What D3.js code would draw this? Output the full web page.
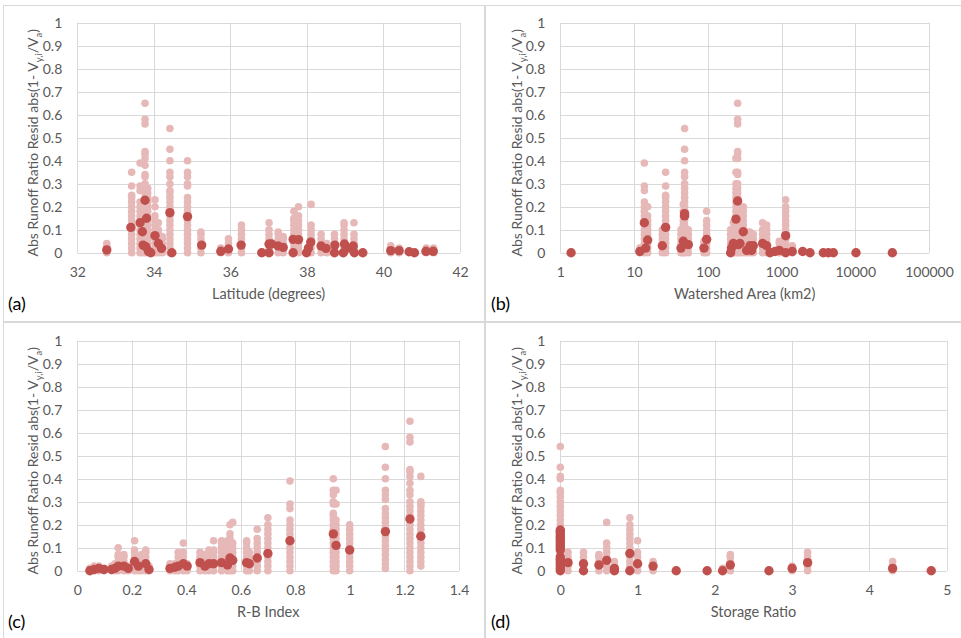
<!DOCTYPE html>
<html><head><meta charset="utf-8">
<script src="https://cdn.jsdelivr.net/npm/d3@7"></script>
<style>
html,body{margin:0;padding:0;background:#fff;}
svg{display:block;font-family:Lato,"Open Sans",sans-serif;}
</style></head>
<body>
<svg id="c" width="961" height="638"></svg>
<script>
// ---------- DATA ----------
const yTicks = [0,0.1,0.2,0.3,0.4,0.5,0.6,0.7,0.8,0.9,1];
const yTitleMain = "Abs Runoff Ratio Resid abs(1- V";

// Panel (a): Latitude
const latTicks = [32,34,36,38,40,42];
const latColumns = [
 [32.77,[0,0.01,0.02,0.03,0.04]],
 [33.42,[0,0.02,0.04,0.06,0.08,0.1,0.12,0.14,0.16,0.18,0.2,0.22,0.24,0.25,0.29,0.35]],
 [33.64,[0,0.02,0.04,0.06,0.08,0.1,0.12,0.14,0.16,0.18,0.2,0.22,0.27,0.29,0.39]],
 [33.70,[0,0.02,0.04,0.06,0.08,0.1,0.12,0.14,0.16,0.18,0.2]],
 [33.77,[0,0.02,0.04,0.06,0.08,0.1,0.12,0.14,0.16,0.18,0.2,0.22,0.24,0.26,0.28,0.3,0.33,0.34,0.38,0.41,0.43,0.44,0.56,0.58,0.65]],
 [33.84,[0,0.02,0.04,0.06,0.08,0.1,0.12,0.14,0.16,0.18,0.2,0.22,0.24,0.26,0.28]],
 [34.03,[0,0.02,0.04,0.06,0.08,0.1,0.12,0.14,0.16,0.2,0.23]],
 [34.12,[0,0.02,0.04,0.06,0.08,0.1,0.13]],
 [34.22,[0,0.02,0.04,0.06,0.07]],
 [34.42,[0,0.02,0.04,0.06,0.08,0.1,0.12,0.14,0.16,0.18,0.2,0.22,0.24,0.26,0.27,0.3,0.33,0.35,0.4,0.45,0.54]],
 [34.88,[0,0.02,0.04,0.06,0.08,0.1,0.12,0.14,0.16,0.18,0.2,0.22,0.24,0.29,0.3,0.33,0.35,0.4]],
 [35.23,[0,0.02,0.04,0.06,0.08,0.09]],
 [35.75,[0,0.01,0.02]],
 [35.95,[0,0.02,0.04,0.06]],
 [36.29,[0,0.02,0.04,0.06,0.08,0.1,0.12]],
 [37.01,[0,0.02,0.04,0.06,0.08,0.1,0.13]],
 [37.25,[0,0.02,0.04,0.06,0.08,0.09]],
 [37.38,[0,0.02,0.04,0.06,0.07]],
 [37.66,[0,0.02,0.04,0.06,0.08,0.1,0.12,0.14,0.15,0.18]],
 [37.78,[0,0.02,0.04,0.06,0.08,0.1,0.12,0.14,0.16,0.2]],
 [38.11,[0,0.02,0.04,0.06,0.08,0.1,0.12,0.21]],
 [38.37,[0,0.02,0.04,0.06,0.08]],
 [38.52,[0,0.02,0.04]],
 [38.72,[0,0.02,0.04,0.06,0.08]],
 [38.97,[0,0.02,0.04,0.06,0.08,0.1,0.12,0.13]],
 [39.23,[0,0.02,0.04,0.06,0.08,0.13]],
 [40.19,[0,0.01,0.02,0.03]],
 [40.41,[0,0.01,0.02]],
 [41.12,[0,0.01,0.02]],
 [41.31,[0,0.01,0.02]]
];
const latMeans = [
 [32.77,0.012],[33.40,0.11],[33.64,0.13],[33.70,0.091],[33.77,0.228],[33.81,0.15],[33.72,0.033],
 [33.79,0.026],[33.86,0.006],[33.92,0],[34.03,0.074],[34.12,0.04],[34.2,0.019],[34.42,0.174],
 [34.47,0],[34.88,0.157],[35.25,0.033],[35.75,0.006],[35.95,0.016],[36.28,0.033],[36.82,0],
 [37.01,0],[37.01,0.038],[37.08,0.038],[37.25,0.029],[37.38,0.023],[37.64,0],[37.64,0.058],
 [37.78,0.057],[37.99,0],[38.04,0.02],[38.10,0.046],[38.37,0.029],[38.5,0.019],[38.72,0],
 [38.73,0.033],[38.95,0],[38.98,0.038],[39.08,0.02],[39.21,0.029],[39.24,0],[39.46,0],
 [40.19,0.009],[40.41,0.009],[40.67,0.004],[40.81,0],[41.11,0.006],[41.30,0.006]
];

// Panel (b): Watershed Area
const areaTicks = [1,10,100,1000,10000,100000];
const areaColumns = [
 [12.0,[0,0.01,0.02]],
 [13.8,[0,0.02,0.04,0.06,0.08,0.1,0.12,0.14,0.16,0.18,0.2,0.22,0.27,0.29,0.39]],
 [15.3,[0,0.02,0.04,0.06,0.08,0.1,0.12,0.14,0.16,0.2]],
 [24.2,[0,0.02,0.04,0.06,0.08,0.1]],
 [26.8,[0,0.02,0.04,0.06,0.08,0.1,0.12,0.14,0.16,0.18,0.2,0.22,0.24,0.25,0.29,0.35]],
 [43.3,[0,0.02,0.04,0.06,0.08,0.1]],
 [46.6,[0,0.02,0.04,0.06,0.08,0.1,0.12,0.14,0.16,0.18,0.21]],
 [48.5,[0,0.02,0.04,0.06,0.08,0.1,0.12,0.14,0.16,0.18,0.2,0.22,0.24,0.26,0.28,0.3,0.33,0.35,0.4,0.45,0.54]],
 [54.4,[0,0.02,0.04,0.06,0.08,0.1]],
 [88.8,[0,0.02,0.04,0.05]],
 [96.5,[0,0.02,0.04,0.06,0.08,0.1,0.12,0.14,0.18]],
 [204,[0,0.02,0.04,0.06,0.08,0.1]],
 [222,[0,0.02,0.04,0.06,0.08,0.1,0.13]],
 [241,[0,0.02,0.04,0.06,0.08,0.1,0.12,0.14,0.16,0.18,0.2,0.22,0.24,0.26,0.28,0.3,0.35,0.41]],
 [254,[0,0.02,0.04,0.06,0.08,0.1,0.12,0.14,0.16,0.18,0.2,0.22,0.24,0.26,0.28,0.3,0.34,0.35,0.41,0.43,0.44,0.56,0.58,0.65]],
 [273,[0,0.02,0.04,0.06,0.08,0.1]],
 [303,[0,0.02,0.04,0.06,0.08,0.1,0.12,0.14,0.16,0.18,0.2]],
 [337,[0,0.02,0.04,0.06,0.08,0.09]],
 [373,[0,0.02,0.04,0.06,0.08,0.09]],
 [414,[0,0.02,0.04,0.06,0.08]],
 [554,[0,0.02,0.04,0.06,0.08,0.1,0.13]],
 [629,[0,0.02,0.04,0.06,0.08,0.1,0.12]],
 [934,[0,0.02,0.04,0.05]],
 [1138,[0,0.02,0.04,0.06,0.08,0.1,0.12,0.14,0.16,0.18,0.2,0.23]],
 [1400,[0,0.02,0.03]]
];
const areaMeans = [
 [1.4,0],[12.0,0.005],[13.8,0.13],[14.4,0.02],[15.3,0.055],[24.2,0.03],[26.8,0.11],[43.3,0.02],
 [46.6,0.05],[48.5,0.17],[48.5,0.16],[54.4,0.035],[88.8,0.02],[96.5,0.058],[204,0],[210,0.02],
 [222,0.04],[241,0.146],[254,0.225],[259,0.035],[273,0.04],[303,0.091],[337,0.01],[373,0.03],
 [393,0.01],[414,0.03],[554,0.04],[629,0.03],[698,0],[815,0.005],[934,0.01],[1138,0.074],
 [1138,0],[1400,0.005],[1935,0.005],[2434,0],[3690,0],[4316,0],[5045,0],[10233,0],[31839,0]
];

// Panel (c): R-B Index
const rbTicks = [0,0.2,0.4,0.6,0.8,1,1.2,1.4];
const rbColumns = [
 [0.046,[0,0.01]],
 [0.062,[0,0.01,0.02]],
 [0.079,[0,0.01,0.02]],
 [0.098,[0,0.01]],
 [0.126,[0,0.01,0.02]],
 [0.138,[0,0.01,0.03]],
 [0.15,[0,0.02,0.04,0.06,0.07,0.1]],
 [0.171,[0,0.02,0.04,0.06,0.07]],
 [0.187,[0,0.02]],
 [0.21,[0,0.02,0.04,0.06,0.08,0.09,0.13]],
 [0.224,[0,0.02,0.04,0.06]],
 [0.236,[0,0.02,0.04,0.06,0.07]],
 [0.251,[0,0.02,0.04,0.06,0.08,0.09]],
 [0.263,[0,0.02]],
 [0.34,[0,0.02,0.03]],
 [0.358,[0,0.02,0.03]],
 [0.37,[0,0.02,0.04,0.06,0.08]],
 [0.389,[0,0.02,0.04,0.06,0.08,0.12]],
 [0.403,[0,0.02,0.03]],
 [0.45,[0,0.02,0.04,0.06,0.08]],
 [0.468,[0,0.02,0.04,0.06,0.07]],
 [0.483,[0,0.02,0.04,0.06,0.08,0.09]],
 [0.5,[0,0.02,0.04,0.06,0.08,0.09,0.13]],
 [0.529,[0,0.02,0.04,0.06,0.08,0.1,0.12,0.13]],
 [0.551,[0,0.02,0.04,0.06,0.08,0.1,0.12,0.13]],
 [0.56,[0,0.02,0.04,0.06,0.08,0.1,0.12,0.14,0.16,0.2]],
 [0.57,[0,0.02,0.04,0.06,0.08,0.1,0.12,0.21]],
 [0.621,[0,0.02,0.04,0.06,0.08,0.1,0.12,0.13]],
 [0.631,[0,0.02,0.04,0.06,0.08]],
 [0.66,[0,0.02,0.04,0.06,0.08,0.1,0.12,0.14,0.18]],
 [0.699,[0,0.02,0.04,0.06,0.08,0.1,0.12,0.14,0.16,0.18,0.2,0.23]],
 [0.78,[0,0.02,0.04,0.06,0.08,0.1,0.12,0.14,0.16,0.18,0.2,0.22,0.27,0.29,0.39]],
 [0.939,[0,0.02,0.04,0.06,0.08,0.1,0.12,0.14,0.16,0.18,0.2,0.22,0.24,0.25,0.29,0.3,0.33,0.35,0.4]],
 [0.949,[0,0.02,0.04,0.06,0.08,0.1,0.12,0.14,0.16,0.18,0.2,0.22,0.29,0.35]],
 [0.999,[0,0.02,0.04,0.06,0.08,0.1,0.12,0.14,0.16,0.18,0.2]],
 [1.13,[0.01,0.03,0.05,0.07,0.09,0.11,0.13,0.15,0.17,0.19,0.21,0.23,0.25,0.27,0.31,0.33,0.35,0.4,0.45,0.54]],
 [1.22,[0,0.02,0.04,0.06,0.08,0.1,0.12,0.14,0.16,0.18,0.2,0.22,0.24,0.26,0.28,0.3,0.33,0.35,0.38,0.41,0.43,0.44,0.56,0.58,0.65]],
 [1.26,[0.02,0.04,0.06,0.08,0.1,0.12,0.14,0.16,0.18,0.2,0.22,0.24,0.26,0.28,0.29,0.3,0.41]]
];
const rbMeans = [
 [0.046,0],[0.062,0.005],[0.079,0.01],[0.098,0.005],[0.126,0.005],[0.138,0.01],[0.15,0.02],
 [0.171,0.02],[0.187,0.01],[0.21,0.04],[0.224,0.02],[0.251,0.03],[0.263,0.005],[0.34,0.01],
 [0.358,0.015],[0.37,0.02],[0.389,0.03],[0.403,0.02],[0.45,0.035],[0.468,0.02],[0.483,0.03],
 [0.5,0.03],[0.529,0.035],[0.551,0.025],[0.56,0.055],[0.57,0.045],[0.621,0.035],[0.631,0.03],
 [0.66,0.055],[0.699,0.075],[0.78,0.13],[0.939,0.16],[0.949,0.11],[0.999,0.09],[1.13,0.17],
 [1.22,0.225],[1.26,0.15]
];

// Panel (d): Storage Ratio
const srTicks = [0,1,2,3,4,5];
const srColumns = [
 [0,[0,0.02,0.04,0.06,0.08,0.1,0.12,0.14,0.16,0.18,0.2,0.22,0.24,0.26,0.28,0.3,0.32,0.34,0.35,0.4,0.41,0.45,0.54]],
 [0.1,[0,0.02,0.04,0.06,0.08]],
 [0.3,[0,0.02,0.04,0.06,0.08]],
 [0.5,[0,0.02,0.04,0.06,0.07]],
 [0.6,[0,0.02,0.04,0.06,0.08,0.1,0.12,0.21]],
 [0.7,[0,0.02,0.04]],
 [0.9,[0,0.02,0.04,0.06,0.08,0.1,0.12,0.14,0.16,0.18,0.2,0.23]],
 [1.0,[0,0.02,0.04,0.06,0.08,0.13]],
 [1.2,[0,0.02,0.04]],
 [2.1,[0,0.01]],
 [2.2,[0,0.02,0.04,0.06,0.07]],
 [3.0,[0,0.02]],
 [3.2,[0,0.02,0.04,0.06,0.08]],
 [4.3,[0,0.02,0.04]]
];
const srMeans = [
 [0,0],[0,0.01],[0,0.02],[0,0.03],[0,0.04],[0,0.05],[0,0.06],[0,0.09],[0,0.1],[0,0.11],[0,0.12],
 [0,0.13],[0,0.14],[0,0.15],[0,0.16],[0,0.17],[0,0.177],
 [0.1,0.035],[0.3,0.03],[0.3,0],[0.5,0.025],[0.6,0.045],[0.7,0.01],[0.7,0],[0.9,0.075],[0.9,0],
 [1.0,0.03],[1.2,0.02],[1.5,0],[1.9,0],[2.1,0],[2.2,0.025],[2.7,0],[3.0,0.01],[3.2,0.035],
 [4.3,0.01],[4.8,0]
];

// ---------- DRAW ----------
const svg = d3.select("#c");
const PINK = "#e6b9b8", RED = "#c0504d", GRID = "#d9d9d9", TXT = "#595959";

// panel frames
[[3.5,5.5,481,316],[485.5,5.5,480,316],[3.5,322.5,481,320],[485.5,322.5,480,320]].forEach(r=>{
  svg.append("rect").attr("x",r[0]).attr("y",r[1]).attr("width",r[2]).attr("height",r[3])
    .attr("fill","none").attr("stroke",GRID).attr("stroke-width",1);
});

function panel(o){
  const g = svg.append("g");
  const x = o.log ? d3.scaleLog().domain(o.xdom).range([o.x0,o.x1])
                  : d3.scaleLinear().domain(o.xdom).range([o.x0,o.x1]);
  const y = d3.scaleLinear().domain([0,1]).range([o.y1,o.y0]);
  // grid
  g.append("g").selectAll("line").data(yTicks).join("line")
    .attr("x1",o.x0).attr("x2",o.x1).attr("y1",d=>Math.round(y(d))+0.5).attr("y2",d=>Math.round(y(d))+0.5)
    .attr("stroke",GRID).attr("stroke-width",1);
  g.append("g").selectAll("line").data(o.xticks).join("line")
    .attr("y1",o.y0).attr("y2",o.y1).attr("x1",d=>Math.round(x(d))+0.5).attr("x2",d=>Math.round(x(d))+0.5)
    .attr("stroke",GRID).attr("stroke-width",1);
  // axes
  const ya = g.append("g").attr("transform",`translate(${o.x0-12},0)`)
    .call(d3.axisLeft(y).tickValues(yTicks).tickSize(0).tickFormat(d3.format("~g")));
  const xa = g.append("g").attr("transform",`translate(0,${o.y1+11})`)
    .call(d3.axisBottom(x).tickValues(o.xticks).tickSize(0).tickFormat(d=>String(+d.toFixed(2))));
  [ya,xa].forEach(a=>{
    a.select(".domain").remove();
    a.selectAll("text").attr("fill",TXT).style("font-size","14px").style("font-family","Lato, sans-serif");
  });
  ya.selectAll("text").attr("dy","0.35em");
  xa.selectAll("text").attr("dy","0.71em");
  // points
  const pts = [];
  o.cols.forEach(c=>c[1].forEach(v=>pts.push([c[0],v])));
  g.append("g").selectAll("circle").data(pts).join("circle")
    .attr("cx",d=>x(d[0])).attr("cy",d=>y(d[1])).attr("r",3.8).attr("fill",PINK);
  g.append("g").selectAll("circle").data(o.means).join("circle")
    .attr("cx",d=>x(d[0])).attr("cy",d=>y(d[1])).attr("r",4.7).attr("fill",RED);
  // x title
  g.append("text").attr("x",(o.x0+o.x1)/2).attr("y",o.y1+46).attr("text-anchor","middle")
    .attr("fill",TXT).style("font-size","14.5px").text(o.xtitle);
  // y title
  const yt = g.append("text").attr("transform",`translate(${o.ytx},${(o.y0+o.y1)/2+5}) rotate(-90)`)
    .attr("text-anchor","middle").attr("fill",TXT).style("font-size","14px");
  yt.append("tspan").text(yTitleMain);
  yt.append("tspan").attr("dy",4).style("font-size","9.5px").text("y,i");
  yt.append("tspan").attr("dy",-4).text("/V");
  yt.append("tspan").attr("dy",4).style("font-size","9.5px").text("a");
  yt.append("tspan").attr("dy",-4).text(")");
  // panel label
  g.append("text").attr("x",o.lx).attr("y",o.y1+57).attr("fill","#000")
    .style("font-size","18px").text(o.label);
}

panel({x0:77.3,x1:460,y0:22.7,y1:252.7,xdom:[32,42],xticks:latTicks,cols:latColumns,means:latMeans,
  xtitle:"Latitude (degrees)",ytx:38,lx:8,label:"(a)"});
panel({x0:560.3,x1:929,y0:22.7,y1:252.7,xdom:[1,100000],log:true,xticks:areaTicks,cols:areaColumns,means:areaMeans,
  xtitle:"Watershed Area (km2)",ytx:522,lx:491,label:"(b)"});
panel({x0:77.3,x1:459,y0:340.7,y1:570.7,xdom:[0,1.4],xticks:rbTicks,cols:rbColumns,means:rbMeans,
  xtitle:"R-B Index",ytx:38,lx:8,label:"(c)"});
panel({x0:560.3,x1:946.7,y0:340.7,y1:570.7,xdom:[0,5],xticks:srTicks,cols:srColumns,means:srMeans,
  xtitle:"Storage Ratio",ytx:522,lx:491,label:"(d)"});
</script>
</body></html>
